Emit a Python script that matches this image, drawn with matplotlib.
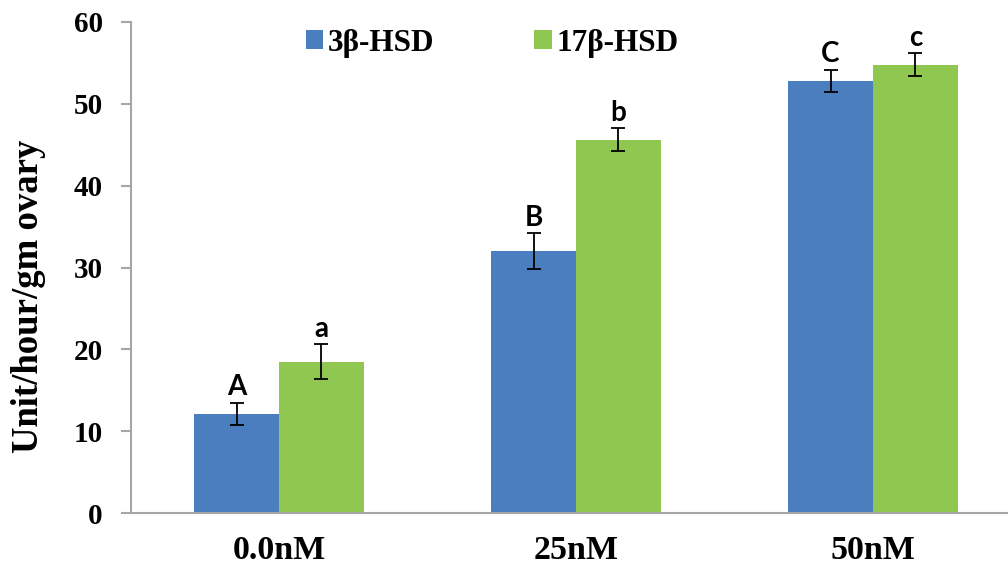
import numpy as np
import matplotlib
matplotlib.use("Agg")
import matplotlib.pyplot as plt

categories = ["0.0nM", "25nM", "50nM"]
series_names = ["3\u03b2-HSD", "17\u03b2-HSD"]
hsd3_values = [12.1, 32.0, 52.8]
hsd3_errors = [1.4, 2.2, 1.35]
hsd17_values = [18.5, 45.6, 54.8]
hsd17_errors = [2.1, 1.4, 1.4]
hsd3_letters = ["A", "B", "C"]
hsd17_letters = ["a", "b", "c"]

blue = "#4A7EBE"
green = "#8FC750"
axis_gray = "#A6A6A6"

fig = plt.figure(figsize=(10.08, 5.71), dpi=100)
# axes box in pixels: left 130.5, bottom 513 (from top), top 22
W, H = 1008, 571
ax = fig.add_axes([130.5 / W, (H - 513) / H, (1008 - 130.5) / W, (513 - 22) / H])

x = np.arange(len(categories))
w = 0.286
serif = "Liberation Serif"
sans = "Lato"

ax.bar(x - w / 2, hsd3_values, w, color=blue, label=series_names[0], zorder=2)
ax.bar(x + w / 2, hsd17_values, w, color=green, label=series_names[1], zorder=2)
ax.errorbar(x - w / 2, hsd3_values, yerr=hsd3_errors, fmt="none", ecolor="black",
            elinewidth=1.3, capsize=5, capthick=1.3, zorder=3)
ax.errorbar(x + w / 2, hsd17_values, yerr=hsd17_errors, fmt="none", ecolor="black",
            elinewidth=1.3, capsize=5, capthick=1.3, zorder=3)

for xi, v, e, t in zip(x - w / 2, hsd3_values, hsd3_errors, hsd3_letters):
    ax.text(xi, v + e + 0.3, t, ha="center", va="bottom", fontsize=20,
            fontweight="bold", family=sans)
for xi, v, e, t in zip(x + w / 2, hsd17_values, hsd17_errors, hsd17_letters):
    ax.text(xi, v + e + 0.3, t, ha="center", va="bottom", fontsize=20,
            fontweight="bold", family=sans)

ax.set_ylim(0, 60)
ax.set_xlim(-0.5, (1008 - 279) / 297)
ax.set_yticks(range(0, 61, 10))
ax.set_xticks(x)
ax.set_xticklabels(categories)

for s in ["top", "right"]:
    ax.spines[s].set_visible(False)
for s in ["left", "bottom"]:
    ax.spines[s].set_color(axis_gray)
    ax.spines[s].set_linewidth(1.5)

ax.tick_params(axis="y", direction="out", length=7, width=1.5, color=axis_gray,
               pad=13, labelsize=21)
ax.tick_params(axis="x", length=0, pad=16, labelsize=24.5)
for lab in ax.get_yticklabels() + ax.get_xticklabels():
    lab.set_fontfamily(serif)
    lab.set_fontweight("bold")

ylab = ax.set_ylabel("Unit/hour/gm ovary", fontsize=26.5, fontweight="bold",
                     family=serif, va="center")
ax.yaxis.set_label_coords(-0.1157, 0.441)

leg = fig.legend(loc="center left", bbox_to_anchor=(306 / W, (H - 43) / H), ncol=2,
                 frameon=False, borderpad=0, borderaxespad=0,
                 prop={"family": serif, "weight": "bold", "size": 22.5},
                 handlelength=0.55, handleheight=0.55, handletextpad=0.15,
                 columnspacing=3.2)

fig.savefig("out.png", dpi=100)
